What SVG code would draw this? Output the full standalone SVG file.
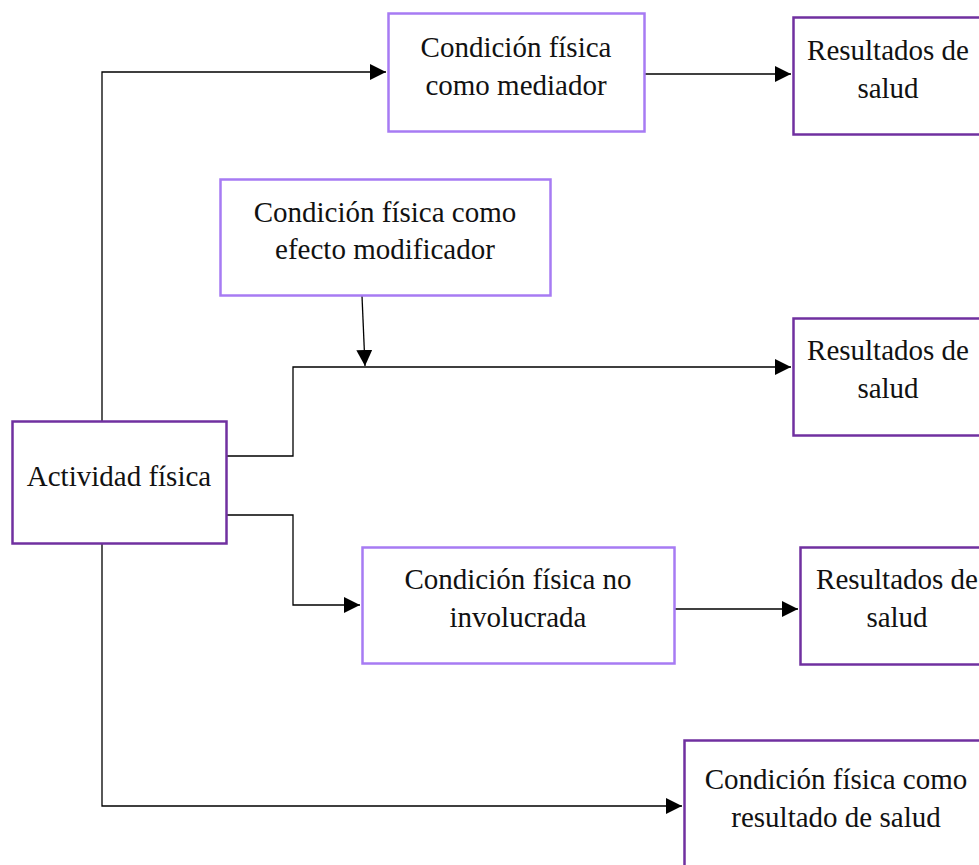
<svg xmlns="http://www.w3.org/2000/svg" width="979" height="865" viewBox="0 0 979 865">
<defs>
<marker id="arr" viewBox="0 0 10 10" refX="10" refY="5" markerWidth="16" markerHeight="16" markerUnits="userSpaceOnUse" orient="auto">
<path d="M0,0 L10,5 L0,10 z" fill="#000"/>
</marker>
<style>
.lt{fill:#fff;stroke:#A77BF3;stroke-width:2.5}
.dk{fill:#fff;stroke:#7030A0;stroke-width:2.5}
text{font-family:"Liberation Serif","Times New Roman",serif;font-size:29px;fill:#111;text-anchor:middle}
.c{fill:none;stroke:#000;stroke-width:1.3}
</style>
</defs>
<rect width="979" height="865" fill="#fff"/>
<g id="connectors">
<polyline class="c" points="102,421 102,72 386,72" marker-end="url(#arr)"/>
<line class="c" x1="644" y1="74" x2="791" y2="74" marker-end="url(#arr)"/>
<line class="c" x1="362" y1="296" x2="365" y2="366" marker-end="url(#arr)"/>
<polyline class="c" points="226,456 293,456 293,367 791,367" marker-end="url(#arr)"/>
<polyline class="c" points="226,515 293,515 293,605 360,605" marker-end="url(#arr)"/>
<line class="c" x1="674" y1="609" x2="798" y2="609" marker-end="url(#arr)"/>
<polyline class="c" points="102,543 102,806 682,806" marker-end="url(#arr)"/>
</g>
<g id="mediador">
<rect class="lt" x="388.5" y="13.5" width="256" height="118"/>
<text x="516" y="57">Condición física</text>
<text x="516" y="95">como mediador</text>
</g>
<g id="resultados1">
<rect class="dk" x="793.5" y="17.5" width="190" height="117"/>
<text x="888" y="60">Resultados de</text>
<text x="888" y="98">salud</text>
</g>
<g id="modificador">
<rect class="lt" x="220.5" y="179.5" width="330" height="116"/>
<text x="385" y="222">Condición física como</text>
<text x="385" y="259">efecto modificador</text>
</g>
<g id="resultados2">
<rect class="dk" x="793.5" y="318.5" width="190" height="117"/>
<text x="888" y="360">Resultados de</text>
<text x="888" y="398">salud</text>
</g>
<g id="actividad">
<rect class="dk" x="12.5" y="421.5" width="214" height="122"/>
<text x="119" y="486">Actividad física</text>
</g>
<g id="noinvolucrada">
<rect class="lt" x="362.5" y="547.5" width="312" height="116"/>
<text x="518" y="589">Condición física no</text>
<text x="518" y="627">involucrada</text>
</g>
<g id="resultados3">
<rect class="dk" x="800.5" y="547.5" width="190" height="117"/>
<text x="897" y="589">Resultados de</text>
<text x="897" y="627">salud</text>
</g>
<g id="resultadosalud">
<rect class="dk" x="684.5" y="740.5" width="310" height="140"/>
<text x="836" y="789">Condición física como</text>
<text x="836" y="827">resultado de salud</text>
</g>
</svg>
